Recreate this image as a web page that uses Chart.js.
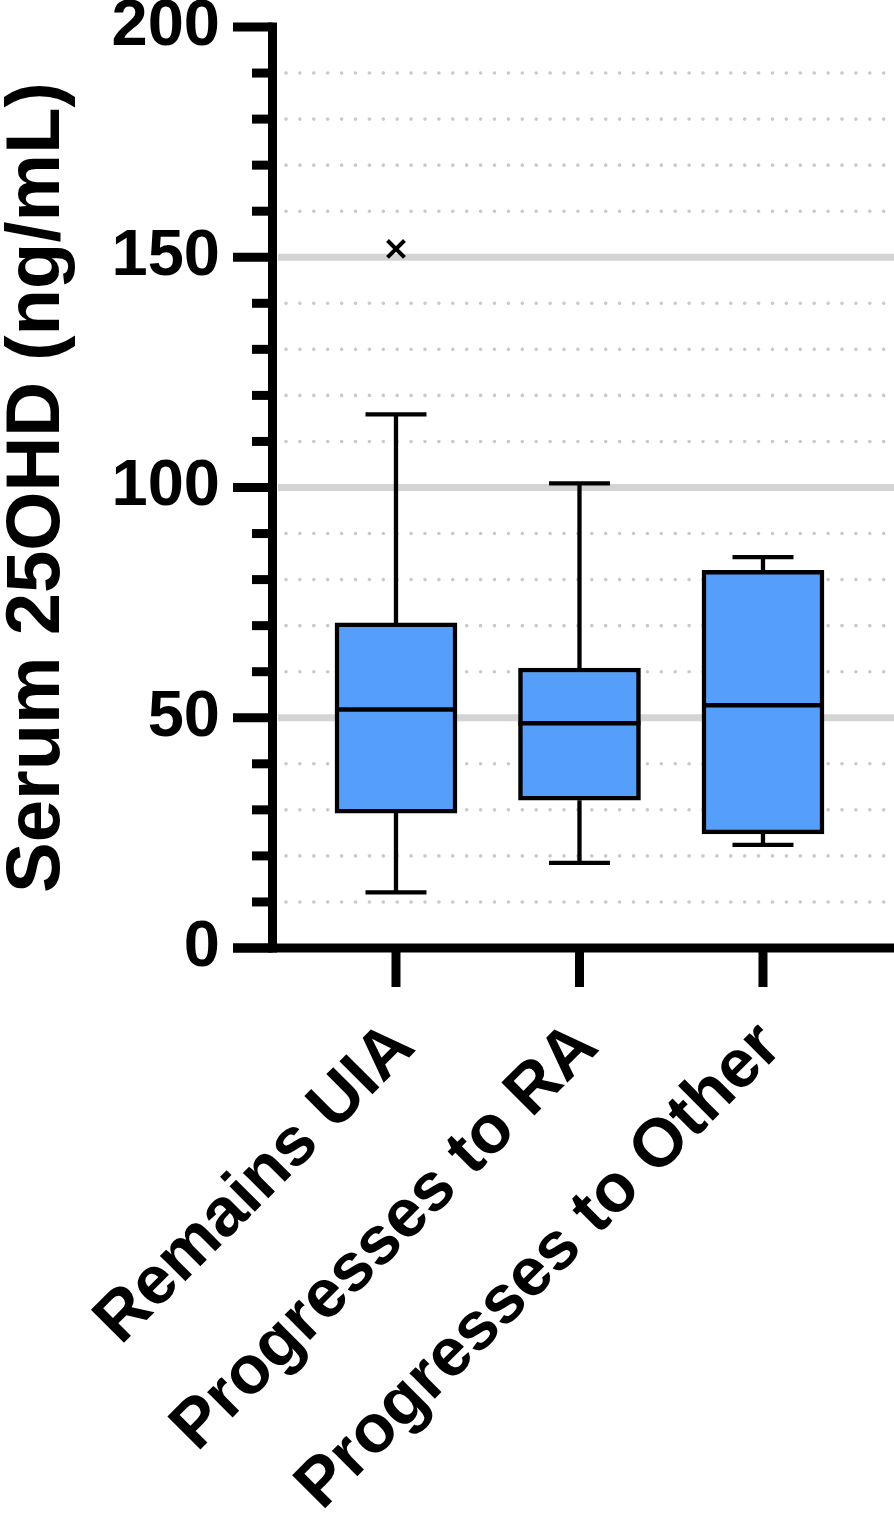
<!DOCTYPE html>
<html>
<head>
<meta charset="utf-8">
<script src="https://cdn.jsdelivr.net/npm/chart.js@4.4.1/dist/chart.umd.min.js"></script>
<style>
  html, body { margin: 0; padding: 0; background: #ffffff; }
  #wrap { width: 894px; height: 1527px; position: relative; }
</style>
</head>
<body>
<div id="wrap"><canvas id="c" width="894" height="1527"></canvas></div>
<script>
// ---- data ----
const categories = ['Remains UIA', 'Progresses to RA', 'Progresses to Other'];
const categoryPositions = [1, 2, 3];
const whiskerLow = [12.1, 18.5, 22.4];
const q1 = [29.3, 32.1, 24.8];
const medians = [51.8, 48.8, 52.7];
const q3 = [70.6, 60.8, 82.0];
const whiskerHigh = [115.9, 100.9, 84.9];
const outlierCategory = [1];
const outlierValues = [151.8];
const yMajorTicks = [0, 50, 100, 150, 200];
const yMin = 0, yMax = 200, yMinorStep = 10;

const FONT = '"Liberation Sans", Arial, Helvetica, sans-serif';

const boxData = categoryPositions.map((x, i) => ({ x: x, y: [q1[i], q3[i]] }));
const outlierData = outlierCategory.map((x, i) => ({ x: x, y: outlierValues[i] }));

const extras = {
  id: 'extras',
  beforeDatasetsDraw(chart) {
    const ctx = chart.ctx, ys = chart.scales.y;
    const W = chart.width;
    ctx.save();
    for (let v = yMin + yMinorStep; v < yMax; v += yMinorStep) {
      const py = ys.getPixelForValue(v);
      if (v % 50 === 0) {
        ctx.strokeStyle = '#d4d4d4';
        ctx.lineWidth = 7;
        ctx.setLineDash([]);
        ctx.lineCap = 'butt';
        ctx.beginPath(); ctx.moveTo(278, py); ctx.lineTo(W, py); ctx.stroke();
      } else {
        ctx.strokeStyle = '#c9c9c9';
        ctx.lineWidth = 3.6;
        ctx.lineCap = 'round';
        ctx.setLineDash([0, 13.9]);
        ctx.beginPath(); ctx.moveTo(286, py); ctx.lineTo(W, py); ctx.stroke();
      }
    }
    ctx.restore();
  },
  afterDatasetsDraw(chart) {
    const ctx = chart.ctx, xs = chart.scales.x, ys = chart.scales.y;
    const area = chart.chartArea;
    const W = chart.width;
    const boxW = 122, capW = 61;
    ctx.save();
    ctx.strokeStyle = '#000';
    ctx.lineCap = 'butt';
    ctx.setLineDash([]);
    categoryPositions.forEach((x, i) => {
      const px = xs.getPixelForValue(x);
      ctx.lineWidth = 4.3;
      ctx.beginPath();
      ctx.moveTo(px, ys.getPixelForValue(q3[i])); ctx.lineTo(px, ys.getPixelForValue(whiskerHigh[i]));
      ctx.moveTo(px, ys.getPixelForValue(q1[i])); ctx.lineTo(px, ys.getPixelForValue(whiskerLow[i]));
      ctx.stroke();
      ctx.beginPath();
      const hy = ys.getPixelForValue(whiskerHigh[i]);
      const ly = ys.getPixelForValue(whiskerLow[i]);
      ctx.moveTo(px - capW / 2, hy); ctx.lineTo(px + capW / 2, hy);
      ctx.moveTo(px - capW / 2, ly); ctx.lineTo(px + capW / 2, ly);
      ctx.stroke();
      const my = ys.getPixelForValue(medians[i]);
      ctx.lineWidth = 4.5;
      ctx.beginPath();
      ctx.moveTo(px - boxW / 2, my); ctx.lineTo(px + boxW / 2, my);
      ctx.stroke();
    });
    // axes
    ctx.lineWidth = 9;
    const ax = area.left + 0.5;
    const y0 = ys.getPixelForValue(yMin), yT = ys.getPixelForValue(yMax);
    ctx.beginPath(); ctx.moveTo(ax, yT - 4.5); ctx.lineTo(ax, y0 + 4.5); ctx.stroke();
    ctx.beginPath(); ctx.moveTo(233, y0); ctx.lineTo(W, y0); ctx.stroke();
    for (let v = yMin; v <= yMax; v += yMinorStep) {
      const py = ys.getPixelForValue(v);
      const major = yMajorTicks.includes(v);
      ctx.beginPath(); ctx.moveTo(major ? 233 : 252, py); ctx.lineTo(ax, py); ctx.stroke();
    }
    categoryPositions.forEach((x) => {
      const px = xs.getPixelForValue(x);
      ctx.beginPath(); ctx.moveTo(px, y0); ctx.lineTo(px, 987); ctx.stroke();
    });
    ctx.restore();
  }
};

new Chart(document.getElementById('c'), {
  type: 'bar',
  data: {
    datasets: [
      {
        type: 'bar',
        data: boxData,
        backgroundColor: '#559ffb',
        borderColor: '#000000',
        borderWidth: 4.5,
        borderSkipped: false,
        barThickness: 122,
        grouped: false
      },
      {
        type: 'scatter',
        data: outlierData,
        pointStyle: 'crossRot',
        radius: 12,
        borderColor: '#000000',
        borderWidth: 4,
        backgroundColor: '#000000'
      }
    ]
  },
  plugins: [extras],
  options: {
    responsive: false,
    animation: false,
    events: [],
    layout: { autoPadding: false, padding: { top: 27, right: 0, bottom: 0, left: 0 } },
    plugins: { legend: { display: false }, tooltip: { enabled: false } },
    scales: {
      x: {
        type: 'linear',
        offset: false,
        min: 0.3243,
        max: 3.714,
        grid: { display: false, drawTicks: true, tickLength: 64, offset: false },
        border: { display: false },
        afterBuildTicks: (s) => { s.ticks = categoryPositions.map(v => ({ value: v })); },
        afterFit: (s) => { s.height = 579; s.paddingLeft = 0; s.paddingRight = 0; },
        ticks: {
          autoSkip: false,
          minRotation: 45,
          maxRotation: 45,
          padding: 0,
          labelOffset: 8,
          color: '#000',
          font: { family: FONT, size: 68, weight: 'bold', lineHeight: 1.0 },
          callback: (v) => { const i = categoryPositions.indexOf(v); return i >= 0 ? categories[i] : ''; }
        }
      },
      y: {
        min: yMin,
        max: yMax,
        grid: { display: false, drawTicks: true, tickLength: 52 },
        border: { display: false },
        afterFit: (s) => { s.width = 272; },
        afterBuildTicks: (s) => { s.ticks = yMajorTicks.map(v => ({ value: v })); },
        ticks: {
          padding: 0,
          color: '#000',
          font: { family: FONT, size: 65, weight: 'bold', lineHeight: 0.8 }
        },
        title: {
          display: true,
          text: 'Serum 25OHD (ng/mL)',
          color: '#000',
          font: { family: FONT, size: 76, weight: 'bold', lineHeight: 1.0 },
          padding: { top: 0, bottom: 0 }
        }
      }
    }
  }
});
</script>
</body>
</html>
